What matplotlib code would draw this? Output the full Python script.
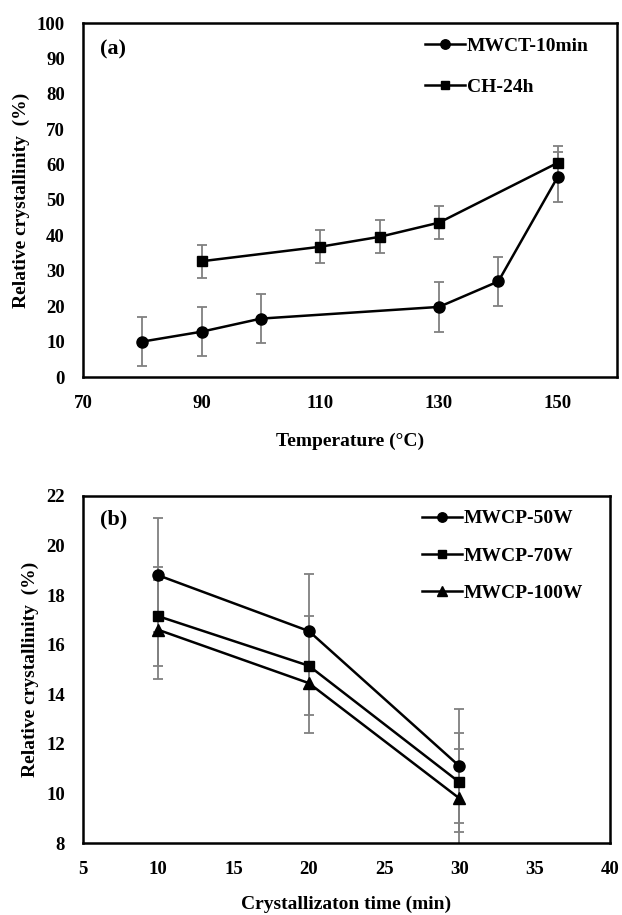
import matplotlib.pyplot as plt

plt.rcParams['font.family'] = 'Liberation Serif'
plt.rcParams['font.weight'] = 'bold'

# (a) temperature series
t_mwct = [80, 90, 100, 130, 140, 150]
y_mwct = [10.0, 12.8, 16.5, 19.8, 27.0, 56.5]
e_mwct = [7, 7, 7, 7, 7, 7]

t_ch = [90, 110, 120, 130, 150]
y_ch = [32.7, 36.8, 39.6, 43.6, 60.5]
e_ch = [4.7, 4.7, 4.7, 4.7, 4.7]

# (b) time series
time = [10, 20, 30]
y_50w = [18.8, 16.55, 11.1]
y_70w = [17.15, 15.15, 10.45]
y_100w = [16.6, 14.45, 9.8]
e_50w = [2.3, 2.3, 2.3]
e_70w = [2.0, 2.0, 2.0]
e_100w = [2.0, 2.0, 2.0]

fig = plt.figure(figsize=(6.22, 9.15), dpi=100)
W, H = 622, 915
ax1 = fig.add_axes([83 / W, 1 - 377 / H, (617 - 83) / W, (377 - 23) / H])
ax2 = fig.add_axes([83 / W, 1 - 843 / H, (610 - 83) / W, (843 - 496) / H])

err_kw = dict(fmt='none', ecolor='#808080', elinewidth=1.3, capsize=3.5,
              capthick=1.3, zorder=1)


def series(ax, x, y, e, marker, label, ms=8):
    ax.errorbar(x, y, yerr=e, **err_kw)
    ax.plot(x, y, marker=marker, color='black', lw=1.8, ms=ms, label=label,
            zorder=3)


# panel (a)
series(ax1, t_mwct, y_mwct, e_mwct, 'o', 'MWCT-10min')
series(ax1, t_ch, y_ch, e_ch, 's', 'CH-24h', ms=7.5)
ax1.set_xlim(70, 160)
ax1.set_ylim(0, 100)
ax1.set_xticks([70, 90, 110, 130, 150])
ax1.set_yticks(range(0, 101, 10))
ax1.set_xlabel('Temperature (°C)', fontsize=14, fontweight='bold',
               labelpad=15)
ax1.set_ylabel('Relative crystallinity  (%)', fontsize=14,
               fontweight='bold', labelpad=5)
ax1.text(0.032, 0.924, '(a)', transform=ax1.transAxes, fontsize=16,
         fontweight='bold', va='center')
ax1.legend(loc='upper left', bbox_to_anchor=(0.64, 0.96), frameon=False,
           fontsize=14, labelspacing=1.2, handlelength=2.05,
           handletextpad=0.1, borderpad=0, borderaxespad=0, markerscale=0.85)

# panel (b)
series(ax2, time, y_50w, e_50w, 'o', 'MWCP-50W')
series(ax2, time, y_70w, e_70w, 's', 'MWCP-70W', ms=7.5)
series(ax2, time, y_100w, e_100w, '^', 'MWCP-100W')
ax2.set_xlim(5, 40)
ax2.set_ylim(8, 22)
ax2.set_xticks(range(5, 41, 5))
ax2.set_yticks(range(8, 23, 2))
ax2.set_xlabel('Crystallizaton time (min)', fontsize=14, fontweight='bold',
               labelpad=13)
ax2.set_ylabel('Relative crystallinity  (%)', fontsize=14,
               fontweight='bold', labelpad=5)
ax2.text(0.032, 0.931, '(b)', transform=ax2.transAxes, fontsize=16,
         fontweight='bold', va='center')
ax2.legend(loc='upper left', bbox_to_anchor=(0.643, 0.96), frameon=False,
           fontsize=14, labelspacing=1.0, handlelength=2.05,
           handletextpad=0.1, borderpad=0, borderaxespad=0, markerscale=0.85)

for ax in (ax1, ax2):
    for s in ax.spines.values():
        s.set_linewidth(1.8)
    ax.tick_params(length=0, labelsize=13.5, pad=13)
    for lab in ax.get_xticklabels() + ax.get_yticklabels():
        lab.set_fontweight('bold')

fig.savefig('out.png', dpi=100)
